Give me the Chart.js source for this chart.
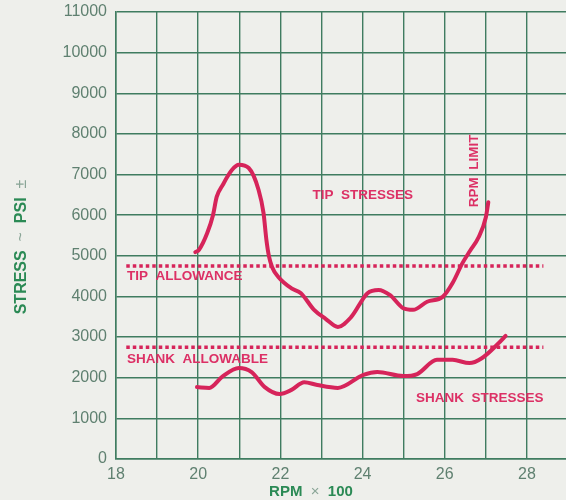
<!DOCTYPE html>
<html>
<head>
<meta charset="utf-8">
<script src="https://cdn.jsdelivr.net/npm/chart.js@4"></script>
<style>
  html, body { margin: 0; padding: 0; background: #eeefeb; }
  canvas { display: block; }
</style>
</head>
<body>
<canvas id="stressChart" width="566" height="500"></canvas>
<script>
// RPM (x100) and stress (psi)
var tipRpm = [19.93, 20.02, 20.22, 20.36, 20.45, 20.6, 20.82, 20.99, 21.23, 21.47, 21.59, 21.66, 21.72, 21.8, 21.95, 22.27, 22.5, 22.82, 23.1, 23.4, 23.72, 24.12, 24.39, 24.67, 24.99, 25.23, 25.57, 25.95, 26.19, 26.43, 26.62, 26.82, 27.0, 27.06];
var tipStress = [5090, 5150, 5560, 6000, 6450, 6750, 7110, 7240, 7160, 6620, 6050, 5390, 5000, 4720, 4480, 4200, 4080, 3670, 3450, 3250, 3490, 4080, 4160, 4030, 3710, 3670, 3870, 3990, 4330, 4820, 5130, 5450, 5950, 6320];

var shankRpm = [19.97, 20.27, 20.58, 20.99, 21.3, 21.62, 21.98, 22.27, 22.58, 22.9, 23.4, 24.02, 24.36, 24.99, 25.33, 25.81, 26.19, 26.6, 26.9, 27.31, 27.48];
var shankStress = [1770, 1750, 2020, 2240, 2140, 1770, 1600, 1700, 1890, 1820, 1750, 2070, 2140, 2040, 2090, 2440, 2440, 2360, 2480, 2850, 3030];

var allowRpm = [18.25, 28.4];
var tipAllowance = [4750, 4750];
var shankAllowable = [2750, 2750];

var xTicks = [18, 20, 22, 24, 26, 28];

var red = "#d6245a";
var gridGreen = "#3f7c60";
var tickGrey = "#5f8070";
var titleGreen = "#2b8a55";
var fontFam = "'Liberation Sans', Arial, sans-serif";

function pts(xs, ys) {
  return xs.map(function (x, i) { return { x: x, y: ys[i] }; });
}

// notes written on the plot, placed in data units
var notes = [
  { text: "TIP  STRESSES", x: 22.78, y: 6480, rot: false },
  { text: "TIP  ALLOWANCE", x: 18.27, y: 4500, rot: false },
  { text: "SHANK  ALLOWABLE", x: 18.27, y: 2460, rot: false },
  { text: "SHANK  STRESSES", x: 25.3, y: 1500, rot: false },
  { text: "RPM  LIMIT", x: 26.72, y: 7090, rot: true }
];

function drawParts(c, parts, size, cx, cy) {
  var widths = parts.map(function (p) {
    c.font = p[2] + " " + size + "px " + fontFam;
    return c.measureText(p[0]).width;
  });
  var total = widths.reduce(function (a, b) { return a + b; }, 0);
  var x0 = cx - total / 2;
  parts.forEach(function (p, i) {
    c.font = p[2] + " " + size + "px " + fontFam;
    c.fillStyle = p[1];
    c.fillText(p[0], x0, cy);
    x0 += widths[i];
  });
}

var paperPlugin = {
  id: "paper",
  beforeDraw: function (chart) {
    var c = chart.ctx;
    c.save();
    c.fillStyle = "#eeefeb";
    c.fillRect(0, 0, chart.width, chart.height);
    c.restore();
  },
  afterDraw: function (chart) {
    var c = chart.ctx;
    var xs = chart.scales.x, ys = chart.scales.y;
    c.save();
    c.fillStyle = "#dc3065";
    c.font = "bold 13.5px " + fontFam;
    c.textBaseline = "middle";
    notes.forEach(function (n) {
      var px = xs.getPixelForValue(n.x), py = ys.getPixelForValue(n.y);
      if (n.rot) {
        c.save();
        c.translate(px, py);
        c.rotate(-Math.PI / 2);
        c.textAlign = "center";
        c.fillText(n.text, 0, 0);
        c.restore();
      } else {
        c.textAlign = "left";
        c.fillText(n.text, px, py);
      }
    });

    c.textAlign = "left";
    c.textBaseline = "middle";
    drawParts(c, [["RPM", titleGreen, "bold"], ["  \u00d7  ", "#8aa597", "normal"], ["100", titleGreen, "bold"]], 15, 311, 492);

    c.save();
    c.translate(22, 247);
    c.rotate(-Math.PI / 2);
    drawParts(c, [["STRESS", titleGreen, "bold"], ["  ~  ", "#8aa597", "normal"], ["PSI", titleGreen, "bold"], ["  \u00b1", "#8aa597", "normal"]], 16, 0, 0);
    c.restore();
    c.restore();
  }
};

var ctx = document.getElementById("stressChart").getContext("2d");
var stressChart = new Chart(ctx, {
  type: "line",
  data: {
    datasets: [
      {
        label: "Tip stresses",
        data: pts(tipRpm, tipStress),
        borderColor: red,
        borderWidth: 4,
        pointRadius: 0,
        cubicInterpolationMode: "monotone",
        borderCapStyle: "round"
      },
      {
        label: "Shank stresses",
        data: pts(shankRpm, shankStress),
        borderColor: red,
        borderWidth: 4,
        pointRadius: 0,
        cubicInterpolationMode: "monotone",
        borderCapStyle: "round"
      },
      {
        label: "Tip allowance",
        data: pts(allowRpm, tipAllowance),
        borderColor: red,
        borderWidth: 3.5,
        borderDash: [3.5, 3],
        pointRadius: 0
      },
      {
        label: "Shank allowable",
        data: pts(allowRpm, shankAllowable),
        borderColor: red,
        borderWidth: 3.5,
        borderDash: [3.5, 3],
        pointRadius: 0
      }
    ]
  },
  options: {
    responsive: false,
    animation: false,
    layout: { padding: { top: 12, right: 0, bottom: 0, left: 0 } },
    plugins: {
      legend: { display: false },
      tooltip: { enabled: false }
    },
    scales: {
      x: {
        type: "linear",
        min: 18,
        max: 28.95,
        border: { display: true, color: gridGreen, width: 1.5 },
        grid: { color: gridGreen, lineWidth: 1.4, drawTicks: false },
        ticks: {
          stepSize: 1,
          includeBounds: false,
          padding: 6,
          color: tickGrey,
          font: { family: fontFam, size: 16 },
          callback: function (v) { return xTicks.indexOf(v) >= 0 ? String(v) : ""; }
        },
        afterFit: function (scale) {
          scale.height = 41;
          scale.paddingLeft = 0;
          scale.paddingRight = 0;
        }
      },
      y: {
        min: 0,
        max: 11000,
        border: { display: true, color: gridGreen, width: 1.5 },
        grid: { color: gridGreen, lineWidth: 1.4, drawTicks: false },
        ticks: {
          stepSize: 1000,
          padding: 9,
          color: tickGrey,
          font: { family: fontFam, size: 16 },
          callback: function (v) { return String(v); }
        },
        afterFit: function (scale) {
          scale.width = 116;
          scale.paddingTop = 0;
          scale.paddingBottom = 0;
        }
      }
    }
  },
  plugins: [paperPlugin]
});
</script>
</body>
</html>
